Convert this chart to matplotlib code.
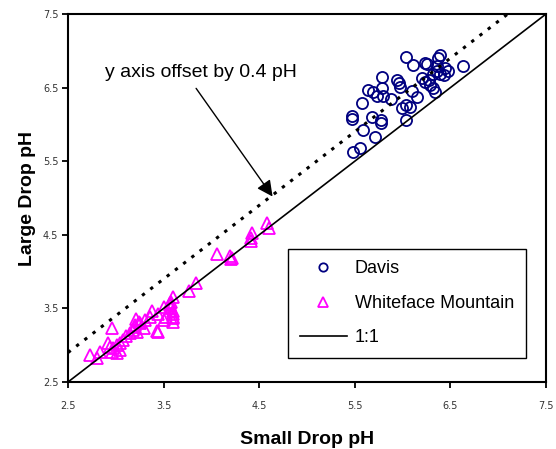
import numpy as np
import matplotlib
matplotlib.use("Agg")
import matplotlib.pyplot as plt

plt.rcParams["font.family"] = "Liberation Sans"

# Davis (small drop pH, large drop pH)
davis_small = [6.04, 6.11, 6.23, 6.26, 6.37, 6.39, 6.63, 5.78, 5.94, 5.96,
               5.97, 5.64, 5.69, 5.73, 5.78, 5.80, 5.88, 5.58, 6.10, 6.15,
               6.20, 6.23, 6.28, 6.32, 6.36, 6.39, 6.43, 6.48, 6.29, 6.34,
               6.32, 5.99, 6.04, 6.08, 6.04, 5.47, 5.47, 5.68, 5.77, 5.77,
               5.59, 5.71, 5.48, 5.55, 6.44, 6.36]
davis_large = [6.91, 6.81, 6.83, 6.82, 6.90, 6.94, 6.79, 6.64, 6.61, 6.56,
               6.51, 6.47, 6.44, 6.39, 6.49, 6.39, 6.34, 6.29, 6.46, 6.37,
               6.63, 6.58, 6.60, 6.69, 6.72, 6.69, 6.67, 6.72, 6.54, 6.44,
               6.49, 6.22, 6.26, 6.24, 6.06, 6.11, 6.08, 6.10, 6.06, 6.02,
               5.92, 5.83, 5.63, 5.68, 6.77, 6.79]

# Whiteface Mountain
wf_small = [4.58, 4.60, 4.42, 4.41, 4.41, 4.06, 4.19, 4.22, 4.21, 3.84,
            3.77, 3.60, 3.57, 3.58, 3.60, 3.60, 2.96, 3.21, 3.43, 2.73,
            2.80, 2.83, 2.92, 2.94, 2.97, 3.01, 3.04, 3.08, 3.11, 3.15,
            3.18, 3.20, 3.24, 2.96, 3.01, 3.04, 3.58, 3.57, 3.60, 3.60,
            3.60, 3.50, 3.44, 3.38, 3.36, 3.31, 3.25, 3.20, 3.44, 3.50,
            3.53, 3.22, 3.29]
wf_large = [4.66, 4.59, 4.53, 4.45, 4.41, 4.24, 4.21, 4.19, 4.17, 3.85,
            3.74, 3.66, 3.57, 3.50, 3.43, 3.37, 3.24, 3.35, 3.19, 2.87,
            2.82, 2.91, 3.03, 2.98, 2.96, 3.00, 3.03, 3.07, 3.12, 3.16,
            3.21, 3.27, 3.32, 2.91, 2.89, 2.93, 3.59, 3.55, 3.46, 3.39,
            3.32, 3.52, 3.43, 3.46, 3.39, 3.34, 3.30, 3.25, 3.18, 3.34,
            3.39, 3.18, 3.23]

ticks = [2.5, 3.5, 4.5, 5.5, 6.5, 7.5]
offset = 0.4

fig = plt.figure(figsize=(5.56, 4.49), dpi=100)
ax = fig.add_axes([0.1223, 0.1492, 0.8597, 0.8196])

ax.plot(davis_small, davis_large, linestyle='None', marker='o', markersize=8,
        markerfacecolor='none', markeredgecolor='#000080', markeredgewidth=1.3,
        label='Davis')
ax.plot(wf_small, wf_large, linestyle='None', marker='^', markersize=9,
        markerfacecolor='none', markeredgecolor='#FF00FF', markeredgewidth=1.3,
        label='Whiteface Mountain')

line_x = np.array([2.5, 7.5])
ax.plot(line_x, line_x, color='black', linewidth=1.2, label='1:1')
ax.plot(line_x, line_x + offset, color='black', linewidth=2.2,
        linestyle=(0, (1.1, 2.3)))

# annotation: text + arrow
ax.text(2.887, 6.71, 'y axis offset by 0.4 pH', fontsize=14, ha='left', va='center')
ax.annotate('', xy=(4.64, 5.02), xytext=(3.84, 6.49),
            arrowprops=dict(arrowstyle='-|>', color='black', lw=1,
                            mutation_scale=24, shrinkA=0, shrinkB=0))

ax.set_xlim(2.5, 7.5)
ax.set_ylim(2.5, 7.5)
ax.set_xticks(ticks)
ax.set_yticks(ticks)
ax.set_xticklabels([str(t) for t in ticks], family='DejaVu Sans', fontsize=7, color='#333333')
ax.set_yticklabels([str(t) for t in ticks], family='DejaVu Sans', fontsize=7, color='#333333')
ax.tick_params(axis='x', direction='out', length=4, width=1.3, pad=10)
ax.tick_params(axis='y', direction='out', length=4, width=1.3, pad=3)

ax.set_xlabel('Small Drop pH', fontsize=14, fontweight='bold', labelpad=14)
ax.set_ylabel('Large Drop pH', fontsize=14, fontweight='bold', labelpad=5)

for axis in ['top', 'bottom', 'left', 'right']:
    ax.spines[axis].set_linewidth(1.5)

leg = ax.legend(loc='lower left', bbox_to_anchor=(0.46, 0.065), borderaxespad=0,
                fontsize=13, frameon=True, fancybox=False, edgecolor='black',
                framealpha=1, markerscale=0.75, labelspacing=0.97,
                handlelength=2.6, handletextpad=0.45, borderpad=0.65)
leg.get_frame().set_linewidth(1.0)

fig.savefig('out.png', dpi=100)
plt.close()
